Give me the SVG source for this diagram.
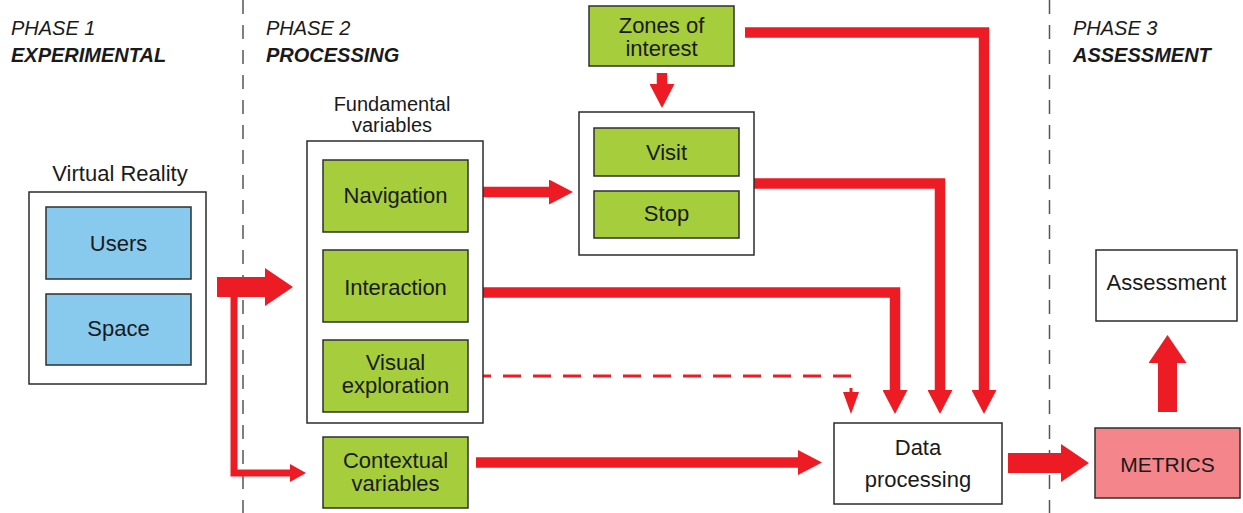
<svg xmlns="http://www.w3.org/2000/svg" width="1243" height="513" viewBox="0 0 1243 513">
<style>
text{font-family:"Liberation Sans",Arial,sans-serif;fill:#1a1a1a}
.lbl{font-size:22px;text-anchor:middle}
.ph{font-size:20px;font-style:italic}
.phb{font-size:20px;font-style:italic;font-weight:bold}
.box{fill:#fff;stroke:#2b2b2b;stroke-width:1.5}
.g{fill:#a5cd3c;stroke:#2f2f2f;stroke-width:1.5}
.b{fill:#88c9ee;stroke:#2f2f2f;stroke-width:1.5}
.p{fill:#f4858b;stroke:#2f2f2f;stroke-width:1.5}
.div{stroke:#555;stroke-width:1.5;stroke-dasharray:14 11;fill:none}
.c{fill:none;stroke:#ed1c24;stroke-linejoin:miter}
.m{stroke-width:10.5;marker-end:url(#hM)}
.L{stroke-width:20;marker-end:url(#hL)}
</style>
<defs>
<marker id="hM" markerUnits="userSpaceOnUse" viewBox="0 -12.5 24 25" markerWidth="24" markerHeight="25" refX="0" refY="0" orient="auto"><path d="M0,-12.5L24,0L0,12.5z" fill="#ed1c24"/></marker>
<marker id="hL" markerUnits="userSpaceOnUse" viewBox="0 -19 28 38" markerWidth="28" markerHeight="38" refX="0" refY="0" orient="auto"><path d="M0,-19L28,0L0,19z" fill="#ed1c24"/></marker>
<marker id="hS" markerUnits="userSpaceOnUse" viewBox="0 -9 16 18" markerWidth="16" markerHeight="18" refX="0" refY="0" orient="auto"><path d="M0,-9L16,0L0,9z" fill="#ed1c24"/></marker>
<marker id="hD" markerUnits="userSpaceOnUse" viewBox="0 -8 22 16" markerWidth="22" markerHeight="16" refX="0" refY="0" orient="auto"><path d="M0,-8L22,0L0,8z" fill="#ed1c24"/></marker>
</defs>
<rect width="1243" height="513" fill="#fff"/>
<g id="dividers">
<line class="div" x1="243" y1="0" x2="243" y2="513"/>
<line class="div" x1="1049.5" y1="0" x2="1049.5" y2="513"/>
</g>
<g id="phase1"><text class="ph" x="11" y="35">PHASE 1</text><text class="phb" x="11" y="62">EXPERIMENTAL</text></g>
<g id="phase2"><text class="ph" x="266" y="35">PHASE 2</text><text class="phb" x="266" y="62">PROCESSING</text></g>
<g id="phase3"><text class="ph" x="1073" y="35">PHASE 3</text><text class="phb" x="1073" y="62">ASSESSMENT</text></g>
<g id="connectors">
<path class="c L" d="M217,287H265"/>
<path class="c" d="M234,290V473H290" stroke-width="7" marker-end="url(#hS)"/>
<path class="c m" d="M473,192H549"/>
<path class="c m" d="M662,73V84"/>
<path class="c m" d="M745,32.5H984V390"/>
<path class="c m" d="M754,183.5H940V390"/>
<path class="c m" d="M473,292.5H895V390"/>
<path class="c" d="M473,376H851V392" stroke-width="3" stroke-dasharray="18 12" marker-end="url(#hD)"/>
<path class="c m" d="M476,462.5H798"/>
<path class="c L" d="M1008,463H1061"/>
<path class="c" d="M1167.5,412V363" stroke-width="19" marker-end="url(#hL)"/>
</g>
<g id="virtual-reality">
<text class="lbl" x="120" y="181">Virtual Reality</text>
<rect class="box" x="29" y="192" width="177" height="192"/>
</g>
<g id="users"><rect class="b" x="46" y="207" width="145" height="72"/><text class="lbl" x="118.5" y="251">Users</text></g>
<g id="space"><rect class="b" x="46" y="294" width="145" height="71"/><text class="lbl" x="118.5" y="336">Space</text></g>
<g id="fundamental-variables">
<text class="lbl" x="392" y="111" style="font-size:20px">Fundamental</text>
<text class="lbl" x="392" y="132" style="font-size:20px">variables</text>
<rect class="box" x="307" y="141" width="176" height="282"/>
</g>
<g id="navigation"><rect class="g" x="323" y="160" width="145" height="72"/><text class="lbl" x="395.5" y="203">Navigation</text></g>
<g id="interaction"><rect class="g" x="323" y="250" width="145" height="72"/><text class="lbl" x="395.5" y="295">Interaction</text></g>
<g id="visual-exploration"><rect class="g" x="323" y="340" width="145" height="72"/><text class="lbl" x="395.5" y="370">Visual</text><text class="lbl" x="395.5" y="393">exploration</text></g>
<g id="contextual-variables"><rect class="g" x="323" y="437" width="145" height="71"/><text class="lbl" x="395.5" y="468">Contextual</text><text class="lbl" x="395.5" y="491">variables</text></g>
<g id="zones-of-interest"><rect class="g" x="589" y="6" width="145" height="60"/><text class="lbl" x="661.5" y="33">Zones of</text><text class="lbl" x="661.5" y="56">interest</text></g>
<g id="visit-stop"><rect class="box" x="579" y="112" width="175" height="143"/></g>
<g id="visit"><rect class="g" x="594" y="128" width="145" height="48"/><text class="lbl" x="666.5" y="160">Visit</text></g>
<g id="stop"><rect class="g" x="594" y="191" width="145" height="47"/><text class="lbl" x="666.5" y="221">Stop</text></g>
<g id="data-processing"><rect class="box" x="834" y="423" width="168" height="81"/><text class="lbl" x="918" y="455">Data</text><text class="lbl" x="918" y="487">processing</text></g>
<g id="metrics"><rect class="p" x="1095" y="428" width="145" height="70"/><text class="lbl" x="1167.5" y="472" style="font-size:21px">METRICS</text></g>
<g id="assessment"><rect class="box" x="1096" y="250" width="141" height="71"/><text class="lbl" x="1166.5" y="290">Assessment</text></g>
</svg>
